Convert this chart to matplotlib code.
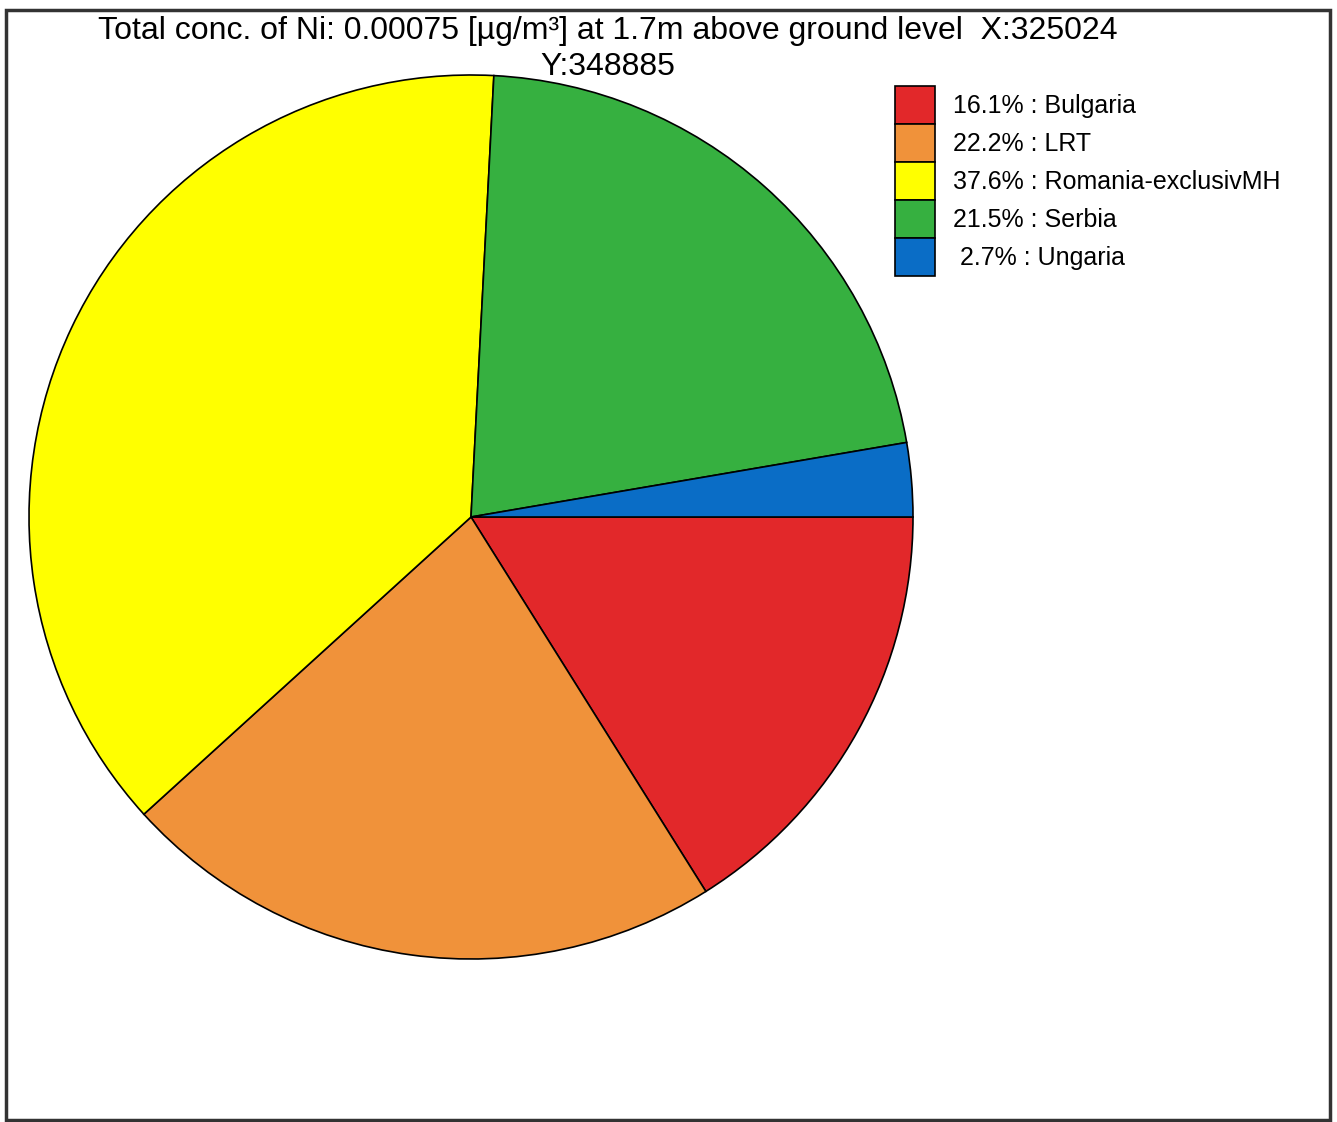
import matplotlib
matplotlib.use("Agg")
import matplotlib.pyplot as plt
from matplotlib.patches import Rectangle

# data
sources = ["Bulgaria", "LRT", "Romania-exclusivMH", "Serbia", "Ungaria"]
shares = [16.1, 22.2, 37.6, 21.5, 2.7]
colours = ["#E2282A", "#F0923A", "#FFFF00", "#36B040", "#0A6DC6"]
title = "Total conc. of Ni: 0.00075 [\u00b5g/m\u00b3] at 1.7m above ground level  X:325024\nY:348885"

W, H = 1337, 1122
plt.rcParams["font.family"] = ["Liberation Sans", "DejaVu Sans"]
fig = plt.figure(figsize=(W / 100, H / 100), dpi=100)
ax = fig.add_axes([0, 0, 1, 1])

wedges, _ = ax.pie(shares, colors=colours, startangle=0, counterclock=False,
                   center=(471, H - 517), radius=442, frame=True,
                   wedgeprops=dict(edgecolor="black", linewidth=1.2))
ax.set_xlim(0, W); ax.set_ylim(0, H); ax.set_aspect("equal"); ax.axis("off")

labels = [f"{v:4.1f}% : {s}" if v >= 10 else f" {v:.1f}% : {s}" for v, s in zip(shares, sources)]
leg = ax.legend(wedges, labels, loc="upper left", bbox_to_anchor=(895 / W, 1 - 86 / H),
                bbox_transform=fig.transFigure, frameon=False, fontsize=18,
                handlelength=1.6, handleheight=1.96, labelspacing=0.0,
                handletextpad=0.72, borderpad=0, borderaxespad=0)

fig.text(608 / W, 1 - 49 / H, title, ha="center", va="center", fontsize=23,
         linespacing=1.22)

fig.patches.append(Rectangle((6 / W, 2 / H), 1324 / W, 1110 / H, transform=fig.transFigure,
                             fill=False, edgecolor="#333333", linewidth=2.5))

fig.savefig("out.png", dpi=100)
